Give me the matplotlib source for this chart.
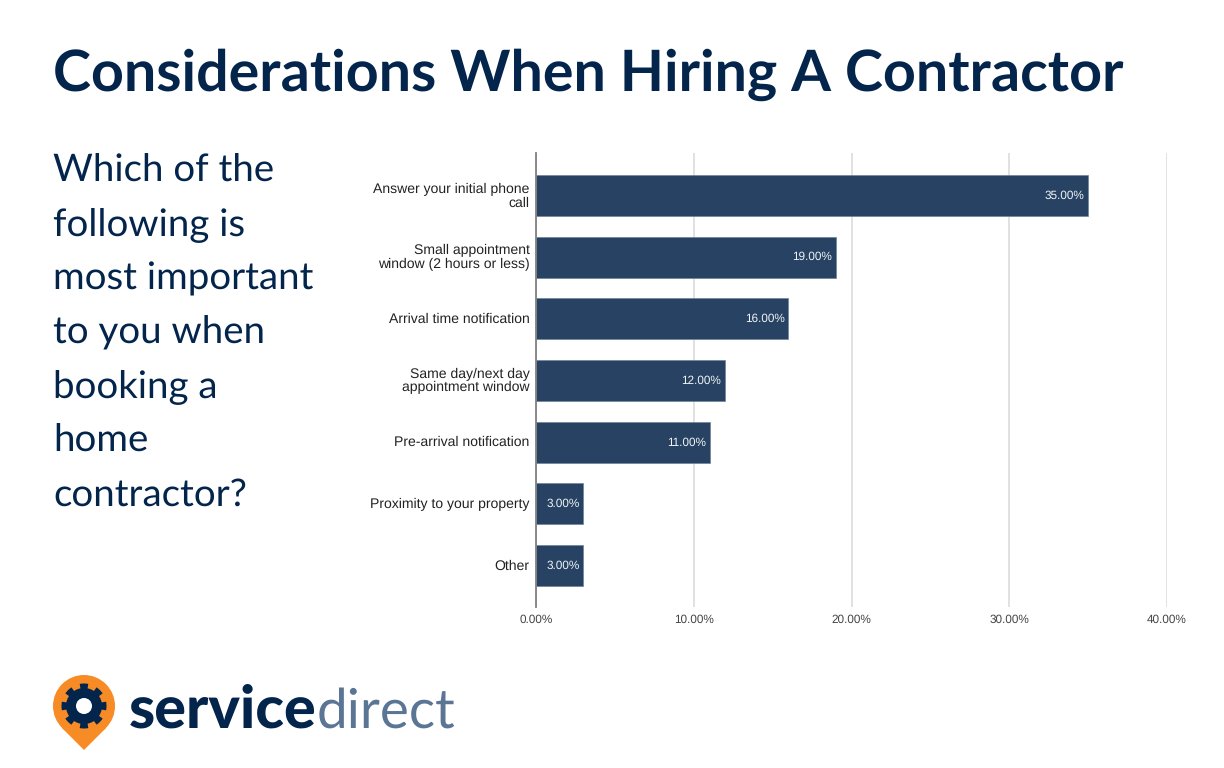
import numpy as np
import matplotlib
matplotlib.use("Agg")
import matplotlib.pyplot as plt
from matplotlib.patches import Circle, Polygon
from matplotlib.transforms import ScaledTranslation

plt.rcParams["text.hinting"] = "none"
plt.rcParams["text.hinting_factor"] = 8

categories = [
    "Answer your initial phone\ncall",
    "Small appointment\nwindow (2 hours or less)",
    "Arrival time notification",
    "Same day/next day\nappointment window",
    "Pre-arrival notification",
    "Proximity to your property",
    "Other",
]
values = [35, 19, 16, 12, 11, 3, 3]
xticks = [0, 10, 20, 30, 40]

title = "Considerations When Hiring A Contractor"
question = ["Which of the", "following is", "most important", "to you when", "booking a", "home", "contractor?"]

NAVY = "#03254c"
BAR = "#274262"
W, H = 1224, 768

fig = plt.figure(figsize=(W / 100, H / 100), dpi=100, facecolor="white")

# overlay in pixel coords for the title, question and logo
bg = fig.add_axes([0, 0, 1, 1])
bg.set_xlim(0, W)
bg.set_ylim(H, 0)
bg.axis("off")

bg.text(53, 91, title, family="Lato", weight="bold", fontsize=41.3, color=NAVY, va="baseline", ha="left")
for i, line in enumerate(question):
    bg.text(53, 182 + i * 53.9, line, family="Lato", fontsize=27.7, color=NAVY, va="baseline", ha="left")

# chart
ax = fig.add_axes([536 / W, 1 - 607 / H, (1167 - 536) / W, (607 - 153) / H])
ax.patch.set_alpha(0)
y = np.arange(len(categories))
ax.barh(y, values, height=0.665, color=BAR, edgecolor="#6f8299", linewidth=0.5, zorder=3)
ax.set_xlim(0, 40)
ax.set_ylim(6.67, -0.69)
ax.set_xticks(xticks)
ax.set_xticklabels([f"{t:.2f}%" for t in xticks], family="Liberation Sans", fontsize=8.5, color="#444444")
ax.set_yticks(y)
ax.set_yticklabels(categories, family="Liberation Sans", fontsize=10.1, color="#222222", linespacing=1.05)
ax.tick_params(axis="both", length=0)
ax.tick_params(axis="x", pad=5.5)
ax.tick_params(axis="y", pad=4.5)
# nudge category labels up a little
for lab in ax.get_yticklabels():
    lab.set_transform(lab.get_transform() + ScaledTranslation(0, 1.3 / 100, fig.dpi_scale_trans))
ax.grid(axis="x", color="#d9d9d9", linewidth=1.1, zorder=0)
for s in ["top", "right", "bottom"]:
    ax.spines[s].set_visible(False)
ax.spines["left"].set_color("#808080")
ax.spines["left"].set_linewidth(1.3)
ax.spines["left"].set_zorder(5)
for yi, v in zip(y, values):
    ax.text(v - 0.25, yi, f"{v:.2f}%", family="Liberation Sans", fontsize=8.5, color="#f0f3f6",
            ha="right", va="center", zorder=4)

# logo
cx, cy = 84, 706
bg.add_patch(Circle((cx, cy), 31, color="#f78b25", lw=0))
bg.add_patch(Polygon([(cx - 22, cy + 22), (cx + 22, cy + 22), (cx, cy + 44)], color="#f78b25", lw=0))
ang = np.linspace(0, 2 * np.pi, 720, endpoint=False)
rad = np.where(np.cos(8 * ang) > 0.0, 22.5, 18)
bg.add_patch(Polygon(np.c_[cx + rad * np.cos(ang), cy + rad * np.sin(ang)], color=NAVY, lw=0))
bg.add_patch(Circle((cx, cy), 8, color="white", lw=0))

t1 = bg.text(129, 728, "service", family="Lato", weight="black", fontsize=42.7, color=NAVY, va="baseline", ha="left")
fig.canvas.draw()
end = t1.get_window_extent().x1
bg.text(end, 728, "direct", family="Lato", fontsize=39.5, color="#5b7595", va="baseline", ha="left")

fig.savefig("out.png", dpi=100)
